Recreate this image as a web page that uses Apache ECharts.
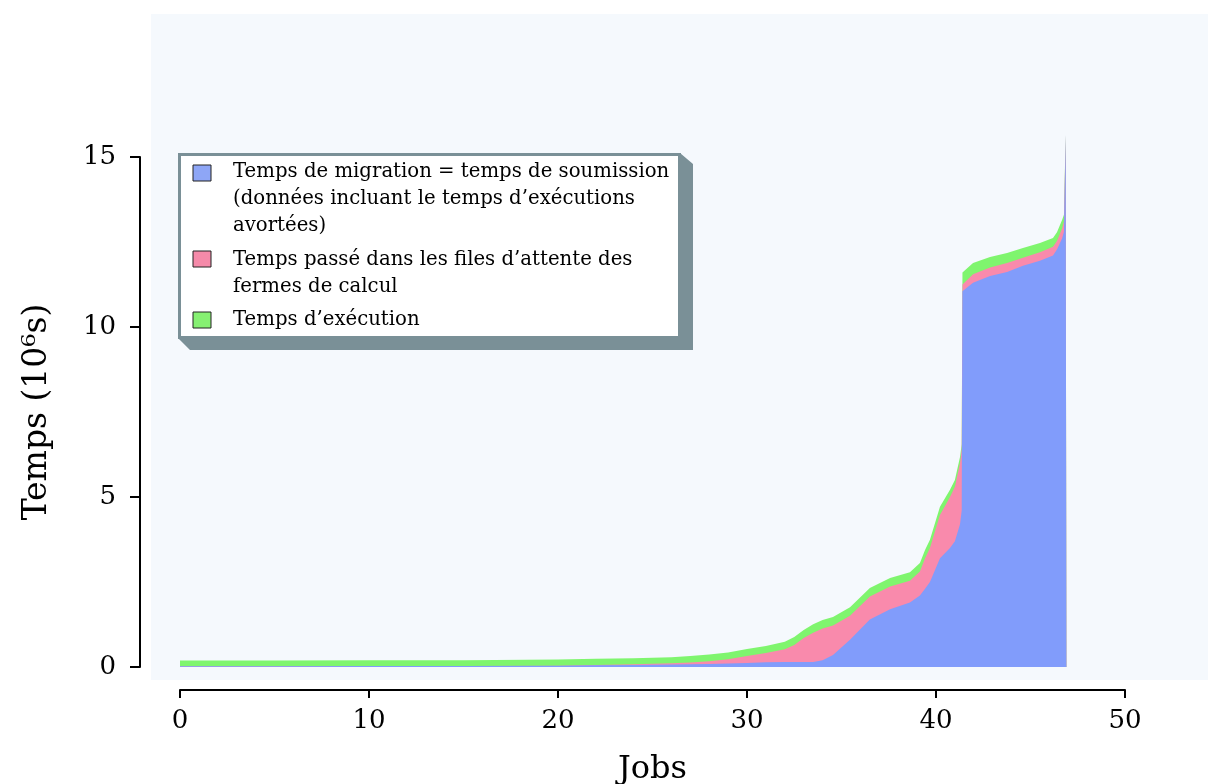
<!DOCTYPE html>
<html>
<head>
<meta charset="utf-8">
<title>Temps par job</title>
<script src="https://cdn.jsdelivr.net/npm/echarts@6/dist/echarts.min.js"></script>
<style>
  html, body { margin: 0; padding: 0; background: #fff; }
  #chart { width: 1208px; height: 784px; }
</style>
</head>
<body>
<div id="chart"></div>
<script>
// jobs (x, milliers) et temps (10^6 s)
const jobs = [0, 5, 10, 15, 20, 22, 24, 26, 27, 28, 29, 30, 31, 32, 32.5, 33, 33.5, 34, 34.55,
  35.45, 36.5, 37.57, 38.62, 39.15, 39.42, 39.68, 40.21, 40.74, 41.0, 41.27, 41.36,
  41.4, 41.96, 42.86, 43.76, 44.6, 45.5, 46.19, 46.4, 46.67, 46.77, 46.86, 46.88, 46.9];
const migration = [0.02, 0.02, 0.03, 0.03, 0.04, 0.05, 0.06, 0.07, 0.08, 0.09, 0.1, 0.12, 0.14, 0.15, 0.15, 0.15, 0.15, 0.2, 0.35,
  0.8, 1.4, 1.7, 1.9, 2.1, 2.3, 2.5, 3.2, 3.5, 3.7, 4.2, 4.6,
  11.05, 11.3, 11.5, 11.62, 11.8, 11.95, 12.1, 12.28, 12.6, 12.8, 15.65, 15.65, 0];
const queue = [0, 0, 0, 0, 0, 0.01, 0.02, 0.04, 0.05, 0.08, 0.13, 0.2, 0.27, 0.37, 0.5, 0.7, 0.86, 0.93, 0.87,
  0.71, 0.67, 0.67, 0.64, 0.71, 0.9, 1.0, 1.27, 1.5, 1.6, 1.8, 1.8,
  0.2, 0.25, 0.25, 0.26, 0.24, 0.25, 0.26, 0.25, 0.3, 0.3, 0, 0, 0];
const execution = [0.17, 0.17, 0.17, 0.17, 0.18, 0.18, 0.18, 0.18, 0.19, 0.2, 0.2, 0.21, 0.21, 0.22, 0.23, 0.24, 0.25, 0.25, 0.25,
  0.25, 0.25, 0.25, 0.25, 0.25, 0.24, 0.24, 0.24, 0.21, 0.2, 0.18, 0.15,
  0.35, 0.33, 0.31, 0.30, 0.28, 0.27, 0.26, 0.26, 0.25, 0.2, 0, 0, 0];

const legendLabels = [
  'Temps de migration = temps de soumission\n(données incluant le temps d\u2019exécutions\navortées)',
  'Temps passé dans les files d\u2019attente des\nfermes de calcul',
  'Temps d\u2019exécution'
];
const colors = ['#819cfb', '#f98aac', '#7ff56e'];
const legendColors = ['#8ea6f6', '#f58aa9', '#86f072'];

const font = 'DejaVu Serif';

// cumuls : chaque aire part de 0, la plus haute est dessinée en premier
const upToQueue = migration.map((v, i) => v + queue[i]);
const total = upToQueue.map((v, i) => v + execution[i]);

function areaSeries(name, values, color) {
  return {
    name: name,
    type: 'line',
    data: jobs.map((x, i) => [x, values[i]]),
    showSymbol: false,
    symbol: 'none',
    clip: false,
    lineStyle: { width: 0 },
    areaStyle: { color: color, opacity: 1, origin: 'start' },
    itemStyle: { color: color },
    silent: true,
    animation: false
  };
}

const chart = echarts.init(document.getElementById('chart'));

// légende dessinée à la main (icône alignée sur la première ligne)
const legendGraphics = [
  { type: 'polygon', z: 100,
    shape: { points: [[680, 153], [693, 164], [693, 350], [190, 350], [178, 338], [680, 338]] },
    style: { fill: '#7a9097' } },
  { type: 'rect', z: 101,
    shape: { x: 179.5, y: 154.5, width: 500, height: 183 },
    style: { fill: '#ffffff', stroke: '#7a9097', lineWidth: 3 } }
];
const iconY = [165, 251, 312];
const textY = [158, 246, 306];
legendLabels.forEach((label, i) => {
  legendGraphics.push({
    type: 'rect', z: 102,
    shape: { x: 193, y: iconY[i], width: 18, height: 16 },
    style: { fill: legendColors[i], stroke: '#222', lineWidth: 1 }
  });
  legendGraphics.push({
    type: 'text', z: 102, x: 233, y: textY[i],
    style: {
      text: label, fill: '#000', font: '19.7px "' + font + '"',
      lineHeight: 27, verticalAlign: 'top', align: 'left'
    }
  });
});

chart.setOption({
  animation: false,
  backgroundColor: '#ffffff',
  textStyle: { fontFamily: font },
  graphic: [
    { type: 'rect', z: -10, silent: true,
      shape: { x: 151, y: 14, width: 1057, height: 666 },
      style: { fill: '#f5f9fd' } }
  ].concat(legendGraphics),
  grid: { left: 180, right: 83, top: 157, bottom: 117, outerBoundsMode: 'none' },
  xAxis: {
    type: 'value',
    min: 0, max: 50, interval: 10,
    offset: 23,
    name: 'Jobs',
    nameLocation: 'middle',
    nameGap: 64,
    nameTextStyle: { fontFamily: font, fontSize: 32, color: '#000' },
    axisLine: { show: true, onZero: false, lineStyle: { color: '#000', width: 2 } },
    axisTick: { show: true, length: 8, lineStyle: { color: '#000', width: 2 } },
    axisLabel: { fontFamily: font, fontSize: 26, color: '#000', margin: 18 },
    splitLine: { show: false }
  },
  yAxis: {
    type: 'value',
    min: 0, max: 15, interval: 5,
    offset: 40,
    name: 'Temps (10\u2076s)',
    nameLocation: 'middle',
    nameRotate: 90,
    nameGap: 86,
    nameTextStyle: { fontFamily: font, fontSize: 33, color: '#000' },
    axisLine: { show: true, onZero: false, lineStyle: { color: '#000', width: 2 } },
    axisTick: { show: true, length: 10, lineStyle: { color: '#000', width: 2 } },
    axisLabel: { fontFamily: font, fontSize: 26, color: '#000', margin: 24 },
    splitLine: { show: false }
  },
  series: [
    areaSeries('execution', total, colors[2]),
    areaSeries('attente', upToQueue, colors[1]),
    areaSeries('migration', migration, colors[0])
  ]
});
</script>
</body>
</html>
